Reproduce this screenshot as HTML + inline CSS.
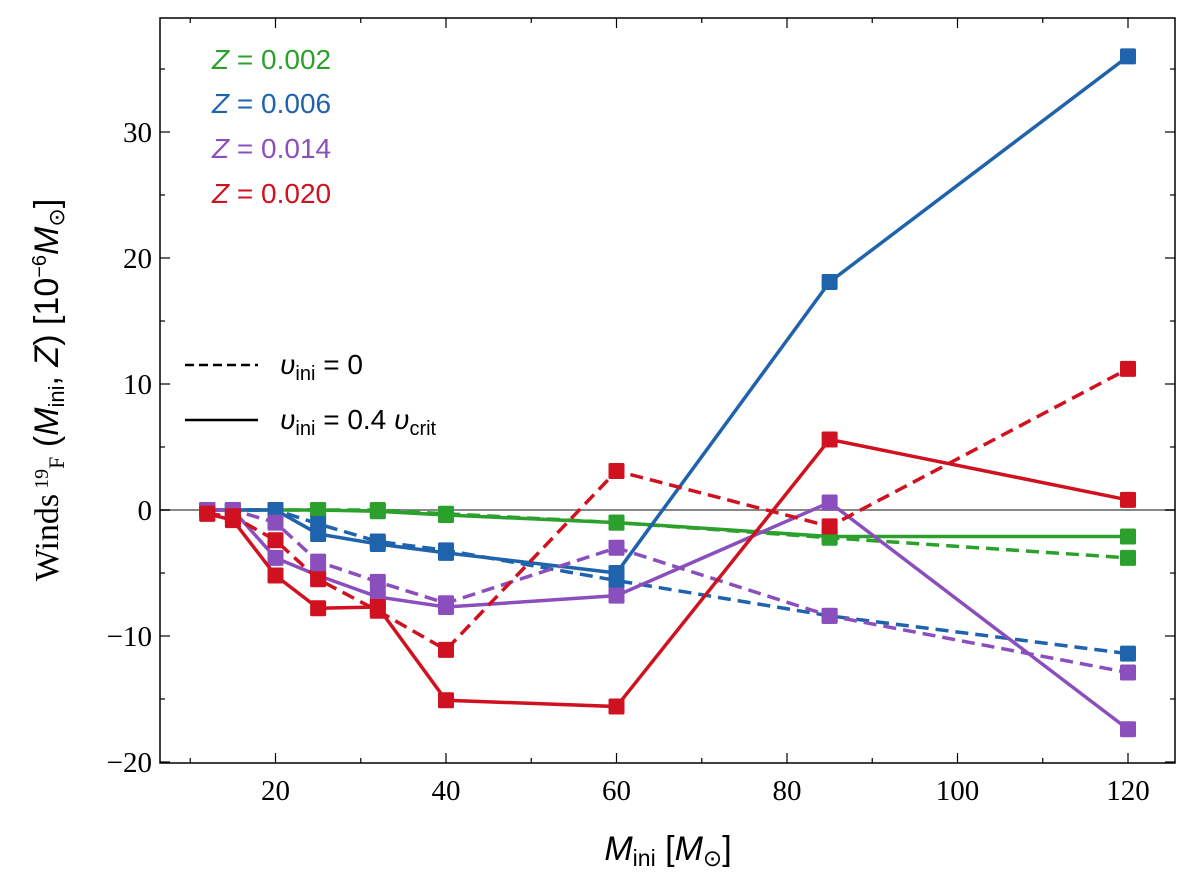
<!DOCTYPE html>
<html><head><meta charset="utf-8"><style>
body{margin:0;background:#fff}
#c text{font-family:"Liberation Serif",serif}
.s, .s text, .s tspan{font-family:"Liberation Sans","DejaVu Sans",sans-serif}
</style></head><body>
<svg id="c" width="1200" height="874" xmlns="http://www.w3.org/2000/svg"></svg>
<script>
const masses=[12,15,20,25,32,40,60,85,120];
const g_rot=[0,0,0,0,-0.1,-0.4,-1,-2.1,-2.1];
const g_non=[0,0,0,0,0,-0.3,-1,-2.2,-3.8];
const b_rot=[0,0,0,-1.9,-2.7,-3.4,-5,18.1,36];
const b_non=[0,0,0,-1.1,-2.5,-3.2,-5.6,-8.4,-11.4];
const p_rot=[0,0,-3.8,-5.2,-6.9,-7.7,-6.8,0.6,-17.4];
const p_non=[0,0,-1,-4.1,-5.7,-7.4,-3,-8.4,-12.9];
const r_rot=[-0.3,-0.8,-5.2,-7.8,-7.7,-15.1,-15.6,5.6,0.8];
const r_non=[-0.3,-0.5,-2.4,-5.5,-8,-11.1,3.1,-1.3,11.2];
const xTicks=[20,40,60,80,100,120];
const yTicks=[-20,-10,0,10,20,30];
const L=160,R=1175,T=18,B=763;
const X=m=>275.5+(m-20)*8.525;
const Y=v=>510-v*12.6;
const svg=document.getElementById('c');
const NS='http://www.w3.org/2000/svg';
function mk(t,a,p){const e=document.createElementNS(NS,t);for(const k in a)e.setAttribute(k,a[k]);(p||svg).appendChild(e);return e;}
let z=mk('line',{x1:L,x2:R,y1:Y(0),y2:Y(0),stroke:'#888','stroke-width':2});


const series=[
['green-rotating',g_rot,'#2ca02c',false],['green-nonrotating',g_non,'#2ca02c',true],
['blue-rotating',b_rot,'#1f63ad',false],['blue-nonrotating',b_non,'#1f63ad',true],
['purple-rotating',p_rot,'#8a4fbd',false],['purple-nonrotating',p_non,'#8a4fbd',true],
['red-rotating',r_rot,'#d0111f',false],['red-nonrotating',r_non,'#d0111f',true]];
series.forEach(([n,d,c,dash])=>{
 const g=mk('g',{});
 
 
 const pl=mk('polyline',{points:masses.map((m,i)=>X(m)+','+Y(d[i])).join(' '),fill:'none',stroke:c,'stroke-width':3.5,'stroke-dasharray':dash?'13,7':'none'},g);
 
 
 masses.forEach((m,i)=>{const r=mk('rect',{x:X(m)-8,y:Y(d[i])-8,width:16,height:16,fill:c,rx:1.5},g);
 
 });
});
let f=mk('rect',{x:L,y:T,width:R-L,height:B-T,fill:'none',stroke:'#000','stroke-width':1.5});


for(let m=10;m<=120;m+=10){const maj=m%20==0,len=maj?10:5;
 mk('line',{x1:X(m),x2:X(m),y1:B,y2:B-len,stroke:'#000','stroke-width':1.2});
 mk('line',{x1:X(m),x2:X(m),y1:T,y2:T+len,stroke:'#000','stroke-width':1.2});}
for(let v=-20;v<=35;v+=5){const maj=v%10==0,len=maj?10:5;
 mk('line',{x1:L,x2:L+len,y1:Y(v),y2:Y(v),stroke:'#000','stroke-width':1.2});
 mk('line',{x1:R,x2:R-len,y1:Y(v),y2:Y(v),stroke:'#000','stroke-width':1.2});}
xTicks.forEach(m=>{const t=mk('text',{x:X(m),y:B+37,'text-anchor':'middle','font-size':29});t.textContent=m;
 
 });
yTicks.forEach(v=>{const t=mk('text',{x:L-8,y:Y(v)+10,'text-anchor':'end','font-size':29});t.textContent=(v<0?'\u2212'+(-v):v);
 
 });
</script>
<svg width="1200" height="874" style="position:absolute;left:0;top:0">
<text class="s" x="668" y="860" text-anchor="middle" font-size="34"><tspan font-style="italic">M</tspan><tspan font-size="23" dy="6">ini</tspan><tspan dy="-6"> [</tspan><tspan font-style="italic">M</tspan><tspan font-size="23" dy="6">⊙</tspan><tspan dy="-6">]</tspan></text>
<text transform="translate(58,390) rotate(-90)" text-anchor="middle" font-size="34" style="font-family:'Liberation Serif',serif">Winds<tspan font-size="20" dy="-10"> 19</tspan><tspan font-size="22" dy="16">F</tspan><tspan class="s" dy="-6"> (</tspan><tspan class="s" font-style="italic">M</tspan><tspan class="s" font-size="22" dy="6">ini</tspan><tspan class="s" dy="-6">, </tspan><tspan class="s" font-style="italic">Z</tspan><tspan class="s">) [10</tspan><tspan class="s" font-size="20" dy="-12">−6</tspan><tspan class="s" font-style="italic" dy="12">M</tspan><tspan class="s" font-size="22" dy="6">⊙</tspan><tspan class="s" dy="-6">]</tspan></text>
<g class="s" font-size="28">
<text x="212" y="69" fill="#2ca02c"><tspan font-style="italic">Z</tspan> = 0.002</text>
<text x="212" y="113" fill="#1f63ad"><tspan font-style="italic">Z</tspan> = 0.006</text>
<text x="212" y="158" fill="#8a4fbd"><tspan font-style="italic">Z</tspan> = 0.014</text>
<text x="212" y="203" fill="#d0111f"><tspan font-style="italic">Z</tspan> = 0.020</text>
<line x1="185" x2="258" y1="365" y2="365" stroke="#000" stroke-width="2.5" stroke-dasharray="9,5"/>
<line x1="185" x2="258" y1="420" y2="420" stroke="#000" stroke-width="2.5"/>
<text x="280" y="374"><tspan font-style="italic">υ</tspan><tspan font-size="20" dy="6">ini</tspan><tspan dy="-6"> = 0</tspan></text>
<text x="280" y="429"><tspan font-style="italic">υ</tspan><tspan font-size="20" dy="6">ini</tspan><tspan dy="-6"> = 0.4 </tspan><tspan font-style="italic">υ</tspan><tspan font-size="20" dy="6">crit</tspan></text>
</g>
</svg>
</body></html>
